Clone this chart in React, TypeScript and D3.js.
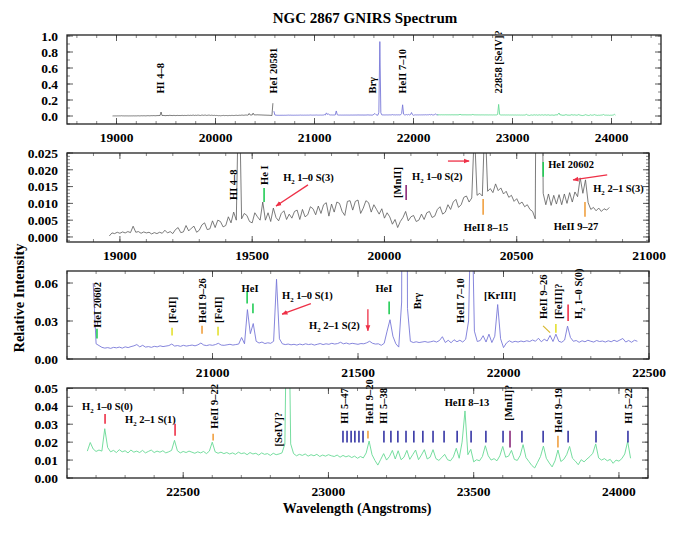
import React from 'react';
import * as d3 from 'd3';

// ---------- DATA (fluxes in units of 1e-3 relative intensity, 10 Å sampling) ----------
const STEP = 10;
const GRAY_START = 18960;
const BLUE_START = 20590;
const GREEN_START = 22170;
const MILLI = 1000;

const grayFlux = [
  0.3, 1.2, 1.0, 1.4, 1.1, 1.5, 1.2, 1.6, 1.3, 3.2,
  1.4, 1.6, 1.1, 1.5, 1.2, 1.4, 0.9, 1.3, 1.0, 1.4,
  1.1, 2.0, 1.2, 1.6, 1.0, 2.2, 2.8, 1.3, 1.5, 3.4,
  1.8, 2.6, 3.2, 1.4, 2.0, 3.6, 4.2, 2.2, 2.4, 4.8,
  2.8, 5.0, 4.6, 3.0, 3.4, 6.0, 4.2, 7.4, 5.0, 50,
  5.4, 7.0, 6.4, 4.6, 4.2, 7.2, 6.0, 5.0, 10.4, 5.0,
  7.2, 4.6, 8.6, 5.8, 4.8, 7.0, 7.8, 5.2, 6.8, 5.6,
  7.6, 8.0, 5.2, 8.2, 6.0, 6.6, 9.0, 8.4, 6.6, 9.2,
  7.0, 9.6, 10.2, 6.2, 9.8, 7.4, 10.4, 10.0, 7.6, 6.4,
  10.6, 10.8, 8.0, 10.6, 11.0, 7.0, 8.6, 10.8, 10.2, 7.4,
  9.6, 8.2, 6.8, 8.4, 5.6, 7.2, 6.0, 3.8, 5.2, 2.8,
  4.6, 5.8, 7.6, 4.8, 6.0, 6.4, 4.6, 5.0, 6.8, 5.2,
  7.2, 7.6, 5.8, 6.2, 8.2, 9.0, 6.8, 7.4, 9.6, 8.2,
  10.4, 11.2, 8.8, 9.6, 11.8, 12.2, 10.4, 11.6, 32, 12.4,
  13.0, 12.2, 36, 13.6, 14.4, 13.2, 15.8, 13.8, 14.6, 12.8,
  13.6, 11.8, 12.4, 10.6, 11.4, 9.8, 10.4, 9.0, 9.6, 8.2,
  7.6, 5.4, 160, 120, 13.0, 9.6, 12.8, 9.4, 12.4, 9.8,
  12.6, 9.6, 12.8, 10.0, 13.2, 10.4, 13.4, 12.0, 17.6, 13.0,
  17.0, 10.2, 8.2, 8.8, 7.8, 8.6, 7.6, 8.4, 8.0, 8.8,
];

const blueFlux = [
  60, 12.0, 10.6, 9.2, 8.6, 9.0, 8.4, 9.2, 8.8, 9.4,
  8.6, 9.6, 9.0, 9.8, 10.4, 11.4, 9.6, 10.8, 9.4, 9.8,
  9.2, 10.0, 9.6, 10.4, 9.8, 10.2, 10.6, 11.8, 10.2, 10.6,
  10.0, 10.8, 10.2, 10.6, 11.0, 10.4, 11.2, 12.6, 11.0, 10.6,
  11.2, 10.8, 11.4, 12.4, 11.0, 10.8, 11.2, 11.6, 11.0, 11.4,
  11.8, 17.0, 12.0, 39, 20, 28, 14, 12.6, 13.4, 12.2,
  12.8, 12.4, 14.0, 63, 16, 12.0, 11.4, 11.8, 11.2, 11.6,
  11.0, 11.8, 11.2, 12.0, 11.4, 11.8, 11.0, 11.6, 12.2, 11.4,
  12.0, 11.6, 12.4, 11.8, 12.2, 13.2, 12.0, 12.6, 11.8, 12.4,
  12.0, 11.6, 12.2, 12.0, 12.8, 14.0, 12.4, 11.8, 12.0, 10.8,
  12.4, 22, 31, 18, 12, 9.4, 45, 930, 40, 14,
  13.0, 13.6, 13.0, 13.4, 13.8, 13.2, 13.6, 14.2, 13.4, 14.6,
  17.6, 13.0, 14.8, 12.8, 15.2, 13.6, 14.8, 13.4, 15.6, 30,
  140, 22, 13.8, 14.6, 18.4, 13.4, 19.6, 13.0, 18, 43,
  16, 9.0, 12.6, 14.4, 13.2, 14.0, 13.4, 14.2, 13.6, 14.4,
  13.8, 15.0, 14.0, 16.4, 13.6, 15.6, 14.2, 18.6, 13.8, 19.6,
  14.0, 13.2, 15.0, 26, 17, 14.0, 14.6, 13.2, 14.4, 13.6,
  14.8, 14.0, 13.4, 14.6, 13.8, 14.2, 13.4, 14.4, 13.6, 14.8,
  13.8, 15.0, 16.2, 13.4, 14.6, 13.2, 14.8, 14.0,
];

const greenFlux = [
  15.0, 19.8, 16.2, 14.8, 15.6, 15.0, 27.5, 17.0, 14.6, 15.4,
  14.2, 15.8, 14.6, 15.2, 14.0, 15.6, 14.4, 15.0, 14.2, 15.4,
  14.0, 14.8, 15.6, 14.2, 15.0, 14.4, 15.2, 14.0, 14.6, 15.4,
  21.0, 15.2, 14.0, 14.8, 14.2, 15.0, 14.4, 13.8, 14.6, 14.0,
  14.8, 13.6, 15.0, 20.0, 14.6, 13.8, 14.4, 13.6, 14.2, 13.4,
  14.0, 13.2, 14.4, 13.6, 14.0, 13.0, 14.2, 13.4, 13.8, 12.8,
  14.0, 13.2, 13.6, 12.6, 13.8, 13.0, 13.4, 14.0, 19, 145,
  19, 13.6, 12.4, 13.2, 12.6, 13.4, 12.2, 13.0, 12.4, 13.2,
  12.0, 12.8, 12.2, 13.0, 12.4, 12.0, 12.8, 11.6, 12.6, 11.8,
  12.4, 11.4, 12.2, 11.0, 12.0, 11.2, 14.0, 20.6, 13.0, 9.8,
  7.2, 10.4, 13.6, 10.0, 12.0, 15.4, 10.6, 15.2, 10.2, 11.6,
  15.4, 10.4, 13.0, 15.6, 10.2, 12.8, 15.8, 10.6, 11.6, 15.8,
  10.8, 9.8, 11.4, 13.2, 10.2, 9.6, 11.8, 16.6, 11.0, 20,
  37.4, 13.0, 16.0, 9.0, 10.2, 9.6, 12.0, 18.0, 12.4, 10.0,
  10.8, 9.6, 12.4, 17.6, 11.6, 12.2, 15.4, 10.4, 9.8, 12.6,
  18.6, 11.4, 9.2, 7.0, 5.6, 8.8, 12.0, 17.8, 11.0, 8.4,
  6.2, 9.6, 15.6, 9.2, 10.4, 13.0, 17.6, 11.0, 9.4, 7.4,
  10.2, 9.0, 10.6, 12.0, 13.8, 19.0, 11.2, 10.0, 10.8, 9.6,
  10.4, 8.2, 10.0, 9.4, 10.8, 13.4, 20.4, 11.0,
];

// Colour switch wavelengths in the overview panel
const OVERVIEW_GRAY_END = 20580;
const OVERVIEW_GREEN_START = 22250;

// Tick values
const p1XTicks = [19000, 20000, 21000, 22000, 23000, 24000];
const p1YTicks = [0, 0.2, 0.4, 0.6, 0.8, 1.0];
const p2XTicks = [19000, 19500, 20000, 20500, 21000];
const p2YTicks = [0, 0.005, 0.01, 0.015, 0.02, 0.025];
const p3XTicks = [21000, 21500, 22000, 22500];
const p3YTicks = [0, 0.03, 0.06];
const p4XTicks = [22500, 23000, 23500, 24000];
const p4YTicks = [0, 0.01, 0.02, 0.03, 0.04, 0.05];

// Line identifications (wavelength Å, flux at text foot)
const p1Rot = [
  { w: 19446, f: 0.28, t: 'HI 4–8' },
  { w: 20581, f: 0.28, t: 'HeI 20581' },
  { w: 21585, f: 0.28, t: 'Brγ' },
  { w: 21891, f: 0.28, t: 'HeII 7–10' },
  { w: 22858, f: 0.28, t: '22858 [SeIV]?' },
];

const p2Rot = [
  { w: 19428, f: 0.0110, t: 'HI 4–8' },
  { w: 19545, f: 0.0155, t: 'He I' },
  { w: 20048, f: 0.0116, t: '[MnII]' },
];
const p2Txt = [
  { w: 19617, f: 0.0167, t: 'H_2 1–0 S(3)', a: 'start' },
  { w: 20104, f: 0.0170, t: 'H_2 1–0 S(2)', a: 'start' },
  { w: 20384, f: 0.0018, t: 'HeII 8–15', a: 'middle' },
  { w: 20619, f: 0.0205, t: 'HeI 20602', a: 'start' },
  { w: 20789, f: 0.0134, t: 'H_2 2–1 S(3)', a: 'start' },
  { w: 20724, f: 0.0021, t: 'HeII 9–27', a: 'middle' },
];
const p2Marks = [
  { w: 19545, f0: 0.0146, f1: 0.0104, c: 'green' },
  { w: 20082, f0: 0.0155, f1: 0.0110, c: 'purple' },
  { w: 20373, f0: 0.0113, f1: 0.0066, c: 'orange' },
  { w: 20600, f0: 0.0223, f1: 0.0179, c: 'green' },
  { w: 20758, f0: 0.0104, f1: 0.0060, c: 'orange' },
];
const p2Arrows = [
  { w0: 19711, f0: 0.0155, w1: 19590, f1: 0.0092 },
  { w0: 20240, f0: 0.0226, w1: 20320, f1: 0.0226 },
  { w0: 20842, f0: 0.0185, w1: 20713, f1: 0.0170 },
];

const p3Rot = [
  { w: 20603, f: 0.0246, t: 'HeI 20602' },
  { w: 20861, f: 0.0285, t: '[FeII]' },
  { w: 20964, f: 0.0285, t: 'HeII 9–26' },
  { w: 21019, f: 0.0285, t: '[FeII]' },
  { w: 21703, f: 0.0392, t: 'Brγ' },
  { w: 21851, f: 0.0285, t: 'HeII 7–10' },
  { w: 22136, f: 0.0315, t: 'HeII 9–26' },
  { w: 22187, f: 0.0315, t: '[FeIII]?' },
  { w: 22256, f: 0.0315, t: 'H_2 1–0 S(0)' },
];
const p3Txt = [
  { w: 21129, f: 0.0531, t: 'HeI', a: 'middle' },
  { w: 21239, f: 0.0477, t: 'H_2 1–0 S(1)', a: 'start' },
  { w: 21332, f: 0.0238, t: 'H_2 2–1 S(2)', a: 'start' },
  { w: 21589, f: 0.0531, t: 'HeI', a: 'middle' },
  { w: 21988, f: 0.0477, t: '[KrIII]', a: 'middle' },
];
const p3Marks = [
  { w: 20603, f0: 0.0238, f1: 0.0162, c: 'green' },
  { w: 20861, f0: 0.0246, f1: 0.0185, c: 'yellow' },
  { w: 20964, f0: 0.0262, f1: 0.0200, c: 'orange' },
  { w: 21019, f0: 0.0254, f1: 0.0185, c: 'yellow' },
  { w: 21119, f0: 0.0538, f1: 0.0438, c: 'green' },
  { w: 21139, f0: 0.0438, f1: 0.0362, c: 'green' },
  { w: 21607, f0: 0.0454, f1: 0.0354, c: 'green' },
  { w: 22180, f0: 0.0277, f1: 0.0208, c: 'yellow' },
  { w: 22222, f0: 0.0431, f1: 0.0300, c: 'red' },
];
const p3Segs = [{ w0: 22136, f0: 0.0262, w1: 22160, f1: 0.0208, c: 'gold' }];
const p3Arrows = [
  { w0: 21338, f0: 0.0438, w1: 21239, f1: 0.0354 },
  { w0: 21534, f0: 0.0392, w1: 21534, f1: 0.0223 },
];

const p4Rot = [
  { w: 22606, f: 0.0275, t: 'HeII 9–22' },
  { w: 22826, f: 0.0176, t: '[SeIV]?' },
  { w: 23054, f: 0.0302, t: 'HI 5–47' },
  { w: 23140, f: 0.0302, t: 'HeII 9–20' },
  { w: 23188, f: 0.0302, t: 'HI 5–38' },
  { w: 23618, f: 0.0319, t: '[MnII]?' },
  { w: 23790, f: 0.0253, t: 'HeII 9–19' },
  { w: 24031, f: 0.0302, t: 'HI 5–22' },
];
const p4Txt = [
  { w: 22152, f: 0.0379, t: 'H_2 1–0 S(0)', a: 'start' },
  { w: 22300, f: 0.0308, t: 'H_2 2–1 S(1)', a: 'start' },
  { w: 23477, f: 0.0401, t: 'HeII 8–13', a: 'middle' },
];
const p4HIWaves = [
  23050, 23064, 23078, 23091, 23105, 23119, 23191, 23215, 23239, 23267, 23294, 23325,
  23360, 23398, 23443, 23491, 23542, 23601, 23666, 23739, 23825, 23921, 24031,
];
const p4Marks = [
  { w: 22231, f0: 0.0357, f1: 0.0302, c: 'red' },
  { w: 22472, f0: 0.0302, f1: 0.0236, c: 'red' },
  { w: 22603, f0: 0.0247, f1: 0.0209, c: 'orange' },
  { w: 23136, f0: 0.0264, f1: 0.0220, c: 'orange' },
  { w: 23625, f0: 0.0264, f1: 0.0170, c: 'purple' },
  { w: 23790, f0: 0.0236, f1: 0.0170, c: 'orange' },
  ...p4HIWaves.map((w) => ({ w, f0: 0.0264, f1: 0.0198, c: 'blue' })),
];

// ---------- STYLE ----------
const FONT = '"Liberation Serif", "Times New Roman", serif';
const COLORS: Record<string, string> = {
  gray: '#5a5a5a',
  blueLine: '#7878d8',
  greenLine: '#66d994',
  green: '#22cc55',
  red: '#ee3047',
  orange: '#f0a040',
  yellow: '#e4e030',
  gold: '#d8b830',
  purple: '#8a2a7a',
  blue: '#3535a5',
};

type Pt = { w: number; f: number };
const toSeries = (start: number, arr: number[]): Pt[] =>
  arr.map((v, i) => ({ w: start + i * STEP, f: v / MILLI }));

const graySeries = toSeries(GRAY_START, grayFlux);
const blueSeries = toSeries(BLUE_START, blueFlux);
const greenSeries = toSeries(GREEN_START, greenFlux);

function Label({ t, size = 10.5 }: { t: string; size?: number }) {
  if (!t.startsWith('H_2')) return <>{t}</>;
  return (
    <>
      H
      <tspan fontSize={size * 0.65} dy={size * 0.28}>2</tspan>
      <tspan dy={-size * 0.28}>{t.slice(3)}</tspan>
    </>
  );
}

type PanelCfg = {
  id: number;
  left: number; right: number; top: number; bottom: number;
  xDomain: [number, number]; yDomain: [number, number];
  xTicks: number[]; xMinor: number; yTicks: number[]; yMinor: number; yFmt: string;
  series: { data: Pt[]; color: string; width: number }[];
  rot?: { w: number; f: number; t: string }[];
  txt?: { w: number; f: number; t: string; a: string }[];
  marks?: { w: number; f0: number; f1: number; c: string }[];
  segs?: { w0: number; f0: number; w1: number; f1: number; c: string }[];
  arrows?: { w0: number; f0: number; w1: number; f1: number }[];
};

const panels: PanelCfg[] = [
  {
    id: 1, left: 67, right: 661, top: 35, bottom: 124,
    xDomain: [18500, 24500], yDomain: [-0.1, 1.0125],
    xTicks: p1XTicks, xMinor: 200, yTicks: p1YTicks, yMinor: 0.1, yFmt: '.1f',
    series: [
      { data: graySeries.filter((d) => d.w <= OVERVIEW_GRAY_END), color: COLORS.gray, width: 0.8 },
      { data: blueSeries.filter((d) => d.w <= OVERVIEW_GREEN_START), color: COLORS.blueLine, width: 0.9 },
      { data: greenSeries.filter((d) => d.w >= OVERVIEW_GREEN_START - STEP), color: COLORS.greenLine, width: 0.9 },
    ],
    rot: p1Rot,
  },
  {
    id: 2, left: 67, right: 649, top: 153, bottom: 242,
    xDomain: [18800, 21000], yDomain: [-0.0015, 0.025],
    xTicks: p2XTicks, xMinor: 100, yTicks: p2YTicks, yMinor: 0.001, yFmt: '.3f',
    series: [{ data: graySeries, color: COLORS.gray, width: 0.8 }],
    rot: p2Rot, txt: p2Txt, marks: p2Marks, arrows: p2Arrows,
  },
  {
    id: 3, left: 67, right: 649, top: 271, bottom: 359,
    xDomain: [20500, 22500], yDomain: [0, 0.0695],
    xTicks: p3XTicks, xMinor: 100, yTicks: p3YTicks, yMinor: 0.01, yFmt: '.2f',
    series: [{ data: blueSeries, color: COLORS.blueLine, width: 0.9 }],
    rot: p3Rot, txt: p3Txt, marks: p3Marks, segs: p3Segs, arrows: p3Arrows,
  },
  {
    id: 4, left: 67, right: 648, top: 388, bottom: 478,
    xDomain: [22100, 24100], yDomain: [0, 0.0502],
    xTicks: p4XTicks, xMinor: 100, yTicks: p4YTicks, yMinor: 0.005, yFmt: '.2f',
    series: [{ data: greenSeries, color: COLORS.greenLine, width: 0.9 }],
    rot: p4Rot, txt: p4Txt, marks: p4Marks,
  },
];

function minorTicks(domain: [number, number], step: number) {
  const n0 = Math.ceil(domain[0] / step - 1e-9);
  const n1 = Math.floor(domain[1] / step + 1e-9);
  return d3.range(n0, n1 + 1).map((k) => k * step);
}

function Panel({ p }: { p: PanelCfg }) {
  const x = d3.scaleLinear().domain(p.xDomain).range([p.left, p.right]);
  const y = d3.scaleLinear().domain(p.yDomain).range([p.bottom, p.top]);
  const line = d3.line<Pt>().x((d) => x(d.w)).y((d) => y(d.f));
  const fmt = d3.format(p.yFmt);
  const clip = `clip-${p.id}`;
  const xm = minorTicks(p.xDomain, p.xMinor);
  const ym = minorTicks(p.yDomain, p.yMinor);
  const MAJ = 6, MIN = 3;
  const tickStroke = '#333';
  return (
    <g>
      <defs>
        <clipPath id={clip}>
          <rect x={p.left} y={p.top} width={p.right - p.left} height={p.bottom - p.top} />
        </clipPath>
      </defs>
      {xm.map((v) => (
        <g key={`xm${v}`} stroke={tickStroke} strokeWidth={0.6}>
          <line x1={x(v)} x2={x(v)} y1={p.bottom} y2={p.bottom - MIN} />
          <line x1={x(v)} x2={x(v)} y1={p.top} y2={p.top + MIN} />
        </g>
      ))}
      {ym.map((v) => (
        <g key={`ym${v}`} stroke={tickStroke} strokeWidth={0.6}>
          <line x1={p.left} x2={p.left + MIN} y1={y(v)} y2={y(v)} />
          <line x1={p.right} x2={p.right - MIN} y1={y(v)} y2={y(v)} />
        </g>
      ))}
      {p.xTicks.map((v) => (
        <g key={`xt${v}`}>
          <line x1={x(v)} x2={x(v)} y1={p.bottom} y2={p.bottom - MAJ} stroke={tickStroke} strokeWidth={0.8} />
          <line x1={x(v)} x2={x(v)} y1={p.top} y2={p.top + MAJ} stroke={tickStroke} strokeWidth={0.8} />
          <text x={x(v)} y={p.bottom + 18} textAnchor="middle" fontSize={13.5} fontWeight="bold" fontFamily={FONT}>
            {v}
          </text>
        </g>
      ))}
      {p.yTicks.map((v) => (
        <g key={`yt${v}`}>
          <line x1={p.left} x2={p.left + MAJ} y1={y(v)} y2={y(v)} stroke={tickStroke} strokeWidth={0.8} />
          <line x1={p.right} x2={p.right - MAJ} y1={y(v)} y2={y(v)} stroke={tickStroke} strokeWidth={0.8} />
          <text x={p.left - 9} y={y(v)} dy="0.35em" textAnchor="end" fontSize={13.5} fontWeight="bold" fontFamily={FONT}>
            {fmt(v)}
          </text>
        </g>
      ))}
      <g clipPath={`url(#${clip})`}>
        {p.series.map((s, i) => (
          <path key={i} d={line(s.data) || ''} fill="none" stroke={s.color} strokeWidth={s.width} strokeLinejoin="round" />
        ))}
      </g>
      {(p.marks || []).map((m, i) => (
        <line key={`mk${i}`} x1={x(m.w)} x2={x(m.w)} y1={y(m.f0)} y2={y(m.f1)} stroke={COLORS[m.c]} strokeWidth={1.6} />
      ))}
      {(p.segs || []).map((m, i) => (
        <line key={`sg${i}`} x1={x(m.w0)} x2={x(m.w1)} y1={y(m.f0)} y2={y(m.f1)} stroke={COLORS[m.c]} strokeWidth={1.2} />
      ))}
      {(p.arrows || []).map((a, i) => (
        <line key={`ar${i}`} x1={x(a.w0)} x2={x(a.w1)} y1={y(a.f0)} y2={y(a.f1)} stroke={COLORS.red} strokeWidth={1.3} markerEnd="url(#arrowRed)" />
      ))}
      {(p.rot || []).map((r, i) => (
        <text key={`rt${i}`} transform={`translate(${x(r.w)},${y(r.f)}) rotate(-90)`} dy="0.35em" fontSize={10.5} fontWeight="bold" fontFamily={FONT}>
          <Label t={r.t} />
        </text>
      ))}
      {(p.txt || []).map((r, i) => (
        <text key={`tx${i}`} x={x(r.w)} y={y(r.f)} textAnchor={r.a as any} fontSize={10.5} fontWeight="bold" fontFamily={FONT}>
          <Label t={r.t} />
        </text>
      ))}
      <rect x={p.left} y={p.top} width={p.right - p.left} height={p.bottom - p.top} fill="none" stroke="#222" strokeWidth={1.3} />
    </g>
  );
}

export default function App() {
  return (
    <svg width={700} height={539} viewBox="0 0 700 539" style={{ position: 'absolute', left: 0, top: 0, background: '#fff' }}>
      <defs>
        <marker id="arrowRed" viewBox="0 0 10 10" refX="9" refY="5" markerWidth="6" markerHeight="6" orient="auto-start-reverse" markerUnits="userSpaceOnUse">
          <path d="M0,1 L10,5 L0,9 z" fill={COLORS.red} />
        </marker>
      </defs>
      <rect width={700} height={539} fill="#fff" />
      <text x={365} y={23} textAnchor="middle" fontSize={15} fontWeight="bold" fontFamily={FONT}>
        NGC 2867 GNIRS Spectrum
      </text>
      {panels.map((p) => (
        <Panel key={p.id} p={p} />
      ))}
      <text transform="translate(24,298) rotate(-90)" textAnchor="middle" fontSize={14.5} fontWeight="bold" fontFamily={FONT}>
        Relative Intensity
      </text>
      <text x={357} y={513} textAnchor="middle" fontSize={14} fontWeight="bold" fontFamily={FONT}>
        Wavelength (Angstroms)
      </text>
    </svg>
  );
}
